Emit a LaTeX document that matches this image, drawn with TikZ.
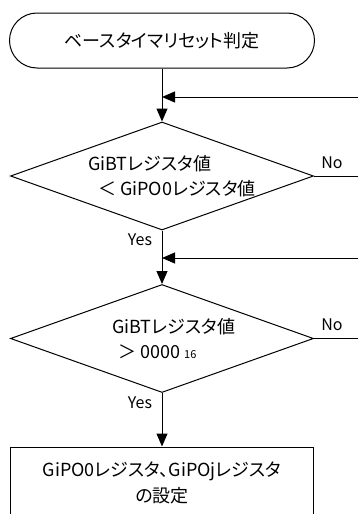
\documentclass[tikz,border=0pt]{standalone}
\usepackage{fontspec}
\setmainfont[RawFeature=+palt]{Noto Sans CJK JP}
\usetikzlibrary{shapes.geometric,shapes.misc,arrows.meta}
\tikzset{>={Triangle[length=13pt,width=11pt]}}
\tikzset{
  flow/.style={draw=black, line width=1pt},
  terminal/.style={flow, rounded rectangle, minimum width=305pt, minimum height=55pt, inner sep=0pt, font=\fontsize{18}{25}\selectfont},
  decision/.style={flow, diamond, minimum width=303pt, minimum height=108pt, inner sep=0pt},
  process/.style={flow, rectangle, minimum width=303pt, minimum height=72pt, inner sep=0pt, align=center, font=\fontsize{18}{26}\selectfont},
  condtext/.style={anchor=west, align=left, inner sep=0pt, font=\fontsize{18}{25}\selectfont},
  answer/.style={inner sep=0pt, font=\fontsize{16}{16}\selectfont},
  line/.style={line width=1pt},
}

\begin{document}
\begin{tikzpicture}[x=1pt,y=-1pt]
    \useasboundingbox (0,0) rectangle (358,514);

    % Flow boxes
    \node[terminal] (start) at (162,40.5) {ベースタイマリセット判定};
    \node[decision] (cmp1) at (162,176) {};
    \node[decision] (cmp2) at (162,338.5) {};
    \node[process] (setreg) at (162,483) {GiPO0レジスタ、GiPOjレジスタ\\の設定};

    % Conditions
    \node[condtext] (cmp1txt) at (88,176) {GiBTレジスタ値\\\hspace*{10pt}＜ GiPO0レジスタ値};
    \node[condtext] (cmp2txt) at (112,338.5) {GiBTレジスタ値\\\hspace*{6pt}＞ 0000 {\fontsize{11}{11}\selectfont 16}};

    % Junctions and loose ends at the right edge
    \coordinate (join1) at (162,97);
    \coordinate (back1) at (358,97);
    \coordinate (join2) at (162,258);
    \coordinate (back2) at (358,258);
    \coordinate (no1) at (358,176);
    \coordinate (no2) at (358,338.5);

    % Connectors
    \draw[line,->] (start.south) -- (cmp1.north);
    \draw[line,->] (back1) -- (join1);
    \draw[line,->] (cmp1.south) -- (cmp2.north);
    \draw[line,->] (back2) -- (join2);
    \draw[line,->] (cmp2.south) -- (setreg.north);
    \draw[line] (cmp1.east) -- (no1);
    \draw[line] (cmp2.east) -- (no2);

    % Branch labels
    \node[answer] (no1lbl) at (332,163) {No};
    \node[answer] (no2lbl) at (332,325) {No};
    \node[answer] (yes1lbl) at (140,240) {Yes};
    \node[answer] (yes2lbl) at (140,403) {Yes};

\end{tikzpicture}
\end{document}
